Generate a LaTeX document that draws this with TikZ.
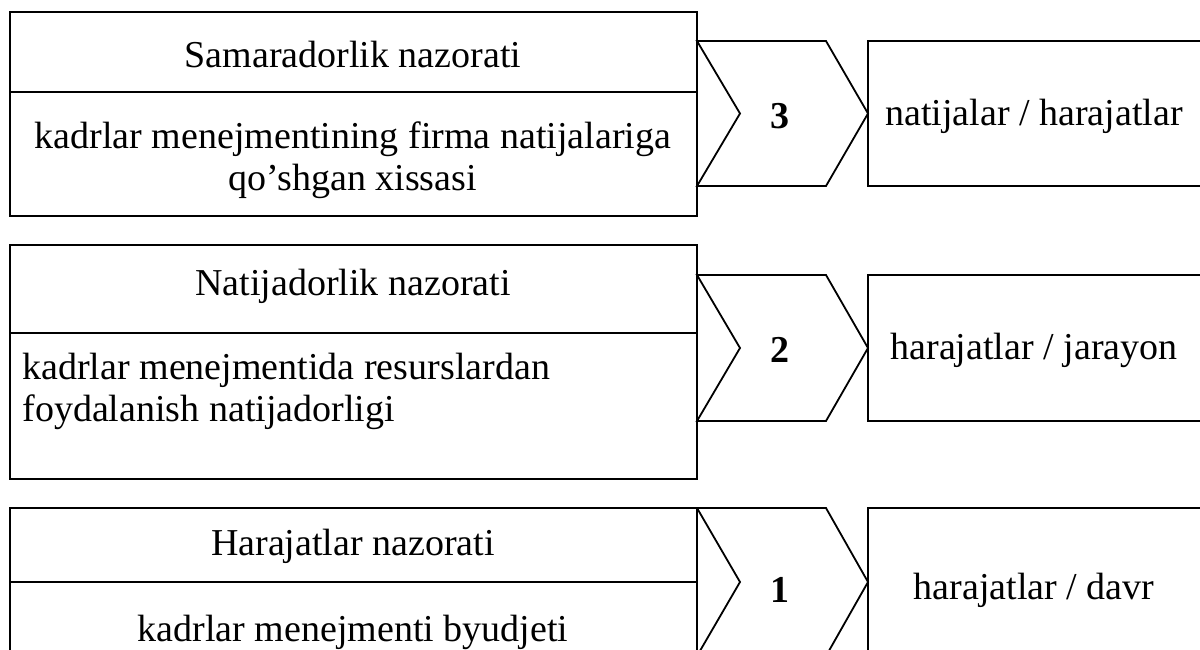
\documentclass[tikz,border=0pt]{standalone}
\usepackage{fontspec}
\setmainfont{Liberation Serif}
\begin{document}
\begin{tikzpicture}[x=0.5pt,y=-0.5pt,
  box/.style={draw,line width=0.9pt},
  txt/.style={font=\fontsize{19}{21}\selectfont, inner sep=0pt, align=center},
  num/.style={font=\fontsize{19}{21}\selectfont\bfseries, inner sep=0pt}]
\useasboundingbox (0,0) rectangle (1200,649);
\clip (0,0) rectangle (1200,649);
% ---------- top row
\draw[box] (10,12) rectangle (697,216);
\draw[box] (10,92) -- (697,92);
\draw[box] (697,41) -- (826,41) -- (868,113.5) -- (826,186) -- (697,186) -- (740,113.5) -- cycle;
\draw[box] (868,41) rectangle (1215,186);
\node[txt] (t1) at (353,54) {Samaradorlik nazorati};
\node[txt] (t2) at (353,160) {kadrlar menejmentining firma natijalariga\\qo’shgan xissasi};
\node[num] (n3) at (780,116) {3};
\node[txt] (r3) at (1034,116) {natijalar / harajatlar};
% ---------- middle row
\draw[box] (10,245) rectangle (697,479);
\draw[box] (10,333) -- (697,333);
\draw[box] (697,275) -- (826,275) -- (868,348) -- (826,421) -- (697,421) -- (740,348) -- cycle;
\draw[box] (868,275) rectangle (1215,421);
\node[txt] (m1) at (353,286) {Natijadorlik nazorati};
\node[txt, align=left, anchor=west] (m2) at (22,391) {kadrlar menejmentida resurslardan\\foydalanish natijadorligi};
\node[num] (n2) at (780,350) {2};
\node[txt] (r2) at (1034,350) {harajatlar / jarayon};
% ---------- bottom row
\draw[box] (10,508) rectangle (697,700);
\draw[box] (10,582) -- (697,582);
\draw[box] (697,508) -- (826,508) -- (868,582) -- (826,656) -- (697,656) -- (740,582) -- cycle;
\draw[box] (868,508) rectangle (1215,700);
\node[txt] (b1) at (353,546) {Harajatlar nazorati};
\node[txt] (b2) at (353,632) {kadrlar menejmenti byudjeti};
\node[num] (n1) at (780,590) {1};
\node[txt] (r1) at (1034,590) {harajatlar / davr};
\end{tikzpicture}
\end{document}
